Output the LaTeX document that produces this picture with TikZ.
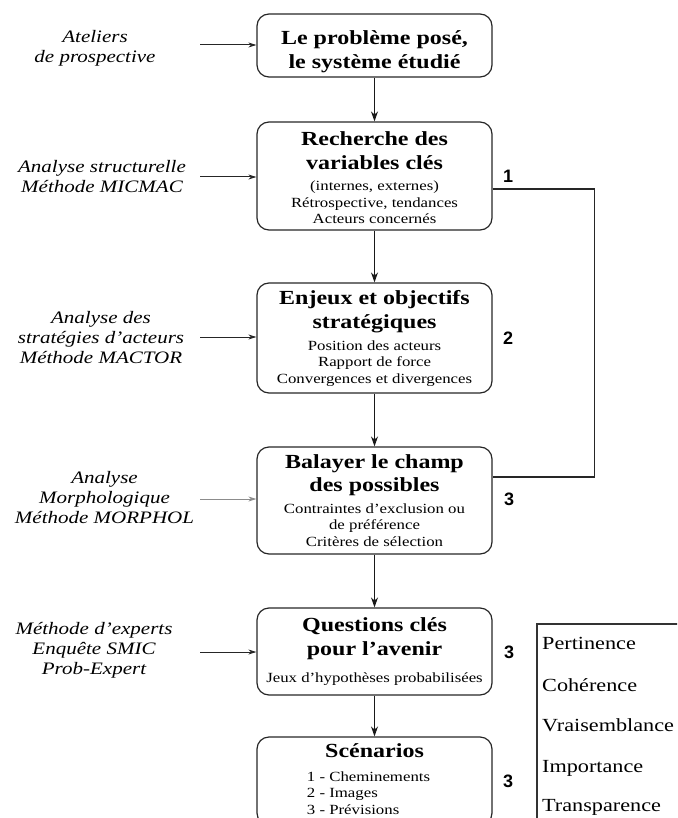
\documentclass[tikz,border=0pt]{standalone}
\usepackage{fontspec}
\setmainfont{Liberation Serif}[FakeStretch=1.2]
\newfontfamily\numfont{Liberation Sans}
\usetikzlibrary{arrows.meta}
\newcommand\stagetitle[1]{{\bfseries\fontsize{20}{20}\selectfont #1}}
\newcommand\tightlines{\lineskiplimit-100pt\relax}
\newcommand\stagefont{\fontsize{14}{16.5}\selectfont\tightlines}
\newcommand\toolfont{\itshape\fontsize{17.5}{20}\selectfont\tightlines}
\newcommand\topstrut[1]{\rule{0pt}{#1}}
\begin{document}
\begin{tikzpicture}[x=1pt,y=-1pt,
  stage/.style={draw=black!85,line width=1.2pt,rounded corners=12pt,minimum width=235pt,inner sep=0pt,align=center,font=\stagefont},
  tool/.style={align=center,inner sep=0pt,font=\toolfont},
  num/.style={inner sep=0pt,font=\numfont\bfseries\fontsize{18}{18}\selectfont},
  crit/.style={anchor=west,inner sep=0pt,text height=13pt,text depth=4pt,font=\fontsize{18.5}{20}\selectfont},
  down/.style={-{Stealth[length=10pt,width=7pt]},line width=1.4pt,black!90},
  feed/.style={-{Stealth[length=8pt,width=5pt]},line width=1pt,black!85},
  loopline/.style={line width=1.3pt,black!85},
  frame/.style={line width=1.2pt,black!80}
]
\useasboundingbox (0,0) rectangle (677,818);
\clip (0,0) rectangle (677,818);

% stages
\node[stage,minimum height=63pt] (b1) at (374.5,45.5)
  {\topstrut{26pt}\stagetitle{Le problème posé,}\\[7pt]\stagetitle{le système étudié}};
\node[stage,minimum height=108pt] (b2) at (374.5,176)
  {\topstrut{18pt}\stagetitle{Recherche des}\\[7.5pt]\stagetitle{variables clés}\\[4.5pt](internes, externes)\\Rétrospective, tendances\\Acteurs concernés};
\node[stage,minimum height=110pt] (b3) at (374.5,338)
  {\stagetitle{Enjeux et objectifs}\\[7.5pt]\stagetitle{stratégiques}\\[5.5pt]Position des acteurs\\Rapport de force\\Convergences et divergences};
\node[stage,minimum height=107pt] (b4) at (374.5,500.5)
  {\stagetitle{Balayer le champ}\\[6.5pt]\stagetitle{des possibles}\\[5.5pt]Contraintes d'exclusion ou\\de préférence\\Critères de sélection};
\node[stage,minimum height=87pt] (b5) at (374.5,651.5)
  {\stagetitle{Questions clés}\\[7.5pt]\stagetitle{pour l'avenir}\\[11pt]Jeux d'hypothèses probabilisées};
\node[stage,minimum height=88pt] (b6) at (374.5,781)
  {\topstrut{15pt}\stagetitle{Scénarios}\\[7pt]{\lineskiplimit0pt\begin{tabular}[t]{@{}l@{}}1 - Cheminements\\2 - Images\\3 - Prévisions\end{tabular}\hspace*{12pt}}};

% vertical flow
\draw[down] (b1) -- (b2);
\draw[down] (b2) -- (b3);
\draw[down] (b3) -- (b4);
\draw[down] (b4) -- (b5);
\draw[down] (b5) -- (b6);

% tools on the left
\node[tool] (t1) at (95,48.5) {Ateliers\\de prospective};
\node[tool] (t2) at (102,176.5) {Analyse structurelle\\Méthode MICMAC};
\node[tool] (t3) at (101,338) {Analyse des\\stratégies d'acteurs\\Méthode MACTOR};
\node[tool] (t4) at (104.5,498) {Analyse\\Morphologique\\Méthode MORPHOL};
\node[tool] (t5) at (94,650) {Méthode d'experts\\Enquête SMIC\\Prob-Expert};

\coordinate (s1) at (200,45);
\coordinate (s2) at (200,177);
\coordinate (s3) at (200,337);
\coordinate (s4) at (200,499);
\coordinate (s5) at (200,652);
\draw[feed] (s1) -- (s1 -| b1.west);
\draw[feed] (s2) -- (s2 -| b2.west);
\draw[feed] (s3) -- (s3 -| b3.west);
\draw[feed,black!45] (s4) -- (s4 -| b4.west);
\draw[feed] (s5) -- (s5 -| b5.west);

% loop back
\draw[loopline] ([yshift=-13pt]b2.east) -- ++(102,0) |- ([yshift=23.5pt]b4.east);

% numbers
\node[num] (n1) at (508,176) {1};
\node[num] (n2) at (508,338) {2};
\node[num] (n3) at (509,499) {3};
\node[num] (n4) at (509,652) {3};
\node[num] (n5) at (508,781) {3};

% criteria frame
\coordinate (fa) at (537,830);
\coordinate (fc) at (690,624);
\draw[frame] (fa) |- (fc);
\node[crit] (c1) at (542,645) {Pertinence};
\node[crit] (c2) at (542,687) {Cohérence};
\node[crit] (c3) at (542,727) {Vraisemblance};
\node[crit] (c4) at (542,768) {Importance};
\node[crit] (c5) at (542,807) {Transparence};
\end{tikzpicture}
\end{document}
